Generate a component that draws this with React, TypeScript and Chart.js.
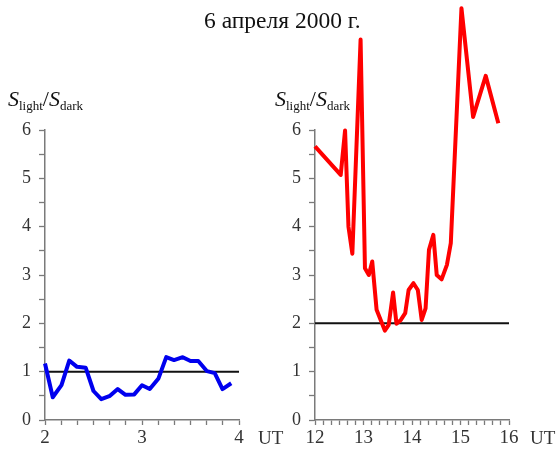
import React, { useEffect, useRef } from 'react';
import { Chart, registerables } from 'chart.js';

Chart.register(...registerables);

// ---- data ----
const title = '6 апреля 2000 г.';
const xUnit = 'UT';

const leftTimes = [2.0, 2.08, 2.17, 2.25, 2.33, 2.42, 2.5, 2.58, 2.67, 2.75, 2.83, 2.92, 3.0, 3.08, 3.17, 3.25, 3.33, 3.42, 3.5, 3.58, 3.67, 3.75, 3.83, 3.92];
const leftRatio = [1.17, 0.47, 0.72, 1.23, 1.1, 1.08, 0.6, 0.43, 0.5, 0.64, 0.52, 0.53, 0.72, 0.64, 0.86, 1.3, 1.24, 1.3, 1.22, 1.22, 1.01, 0.97, 0.64, 0.76];
const leftLevel = 1;
const leftRange = [2, 4];

const rightTimes = [12.0, 12.53, 12.62, 12.69, 12.77, 12.94, 13.03, 13.11, 13.18, 13.27, 13.44, 13.52, 13.61, 13.68, 13.77, 13.86, 13.93, 14.03, 14.12, 14.2, 14.28, 14.35, 14.44, 14.51, 14.61, 14.72, 14.8, 15.02, 15.26, 15.52, 15.78];
const rightRatio = [5.66, 5.07, 5.99, 4.0, 3.44, 7.87, 3.14, 3.0, 3.28, 2.28, 1.85, 1.97, 2.64, 1.99, 2.07, 2.21, 2.69, 2.83, 2.69, 2.07, 2.31, 3.52, 3.83, 3.0, 2.91, 3.21, 3.66, 8.52, 6.27, 7.12, 6.14];
const rightLevel = 2;
const rightRange = [12, 16];

const yRange = [0, 6];
const yTickValues = [0, 0.5, 1, 1.5, 2, 2.5, 3, 3.5, 4, 4.5, 5, 5.5, 6];
const minorPerHour = 6;

const FONT = '"Liberation Serif", "Times New Roman", serif';
const AXIS = '#7a7a7a';
const LABEL = '#333333';

function hourTicks(min: number, max: number): number[] {
  const out: number[] = [];
  for (let i = 0; i <= (max - min) * minorPerHour; i++) out.push(min + i / minorPerHour);
  return out;
}

const isInt = (v: number) => Math.abs(v - Math.round(v)) < 1e-6;

function makeConfig(times: number[], ratios: number[], color: string, level: number, range: number[], yWidth: number, padRight: number): any {
  const xTicks = hourTicks(range[0], range[1]);
  return {
    type: 'line',
    data: {
      datasets: [
        {
          data: times.map((t, i) => ({ x: t, y: ratios[i] })),
          borderColor: color,
          borderWidth: 4,
          pointRadius: 0,
          tension: 0,
          clip: false,
          borderJoinStyle: 'round',
        },
        {
          data: [{ x: range[0], y: level }, { x: range[1], y: level }],
          borderColor: '#111111',
          borderWidth: 2,
          pointRadius: 0,
        },
      ],
    },
    options: {
      animation: false,
      responsive: false,
      layout: { padding: { left: 0, right: padRight, top: 130, bottom: 0 } },
      plugins: { legend: { display: false }, tooltip: { enabled: false } },
      scales: {
        x: {
          type: 'linear',
          min: range[0],
          max: range[1],
          afterBuildTicks: (s: any) => { s.ticks = xTicks.map((v) => ({ value: v })); },
          afterFit: (s: any) => { s.height = 37; },
          ticks: {
            autoSkip: false,
            maxRotation: 0,
            callback: (v: number) => (isInt(v) ? String(Math.round(v)) : ''),
            font: { family: FONT, size: 19 },
            color: LABEL,
            padding: 2,
          },
          grid: { drawOnChartArea: false, tickLength: 5, tickColor: AXIS, tickWidth: 1.3 },
          border: { color: AXIS, width: 1.5 },
        },
        y: {
          type: 'linear',
          min: yRange[0],
          max: yRange[1],
          afterBuildTicks: (s: any) => { s.ticks = yTickValues.map((v) => ({ value: v })); },
          afterFit: (s: any) => { s.width = yWidth; },
          ticks: {
            autoSkip: false,
            callback: (v: number) => (isInt(v) ? String(Math.round(v)) : ''),
            font: { family: FONT, size: 18 },
            color: LABEL,
            padding: 8,
          },
          grid: { drawOnChartArea: false, tickLength: 6, tickColor: AXIS, tickWidth: 1.3 },
          border: { color: AXIS, width: 1.5 },
        },
      },
    },
  };
}

function Panel(props: { left: number; config: any }) {
  const ref = useRef<HTMLCanvasElement>(null);
  useEffect(() => {
    const chart = new Chart(ref.current as HTMLCanvasElement, props.config);
    return () => chart.destroy();
  }, []);
  return (
    <canvas
      ref={ref}
      width={278}
      height={457}
      style={{ position: 'absolute', left: props.left, top: 0, width: 278, height: 457 }}
    />
  );
}

function YLabel(props: { left: number; top: number }) {
  const sub: React.CSSProperties = { fontStyle: 'normal', fontSize: 13, position: 'relative', top: 4 };
  return (
    <div style={{ position: 'absolute', left: props.left, top: props.top, font: `italic 22px ${FONT}`, lineHeight: '22px', whiteSpace: 'nowrap', color: '#111' }}>
      S<span style={sub}>light</span><span style={{ fontStyle: 'normal' }}>/</span>S<span style={sub}>dark</span>
    </div>
  );
}

export default function App() {
  const leftCfg = makeConfig(leftTimes, leftRatio, '#0000ee', leftLevel, leftRange, 45, 39);
  const rightCfg = makeConfig(rightTimes, rightRatio, '#ff0000', rightLevel, rightRange, 37, 47);
  const unitStyle: React.CSSProperties = { position: 'absolute', top: 428, font: `19px ${FONT}`, lineHeight: '19px', color: LABEL, whiteSpace: 'nowrap' };
  return (
    <div style={{ position: 'absolute', left: 0, top: 0, width: 556, height: 457, background: '#fff', overflow: 'hidden' }}>
      <Panel left={0} config={leftCfg} />
      <Panel left={278} config={rightCfg} />
      <div style={{ position: 'absolute', left: 204, top: 9, font: `23.5px ${FONT}`, lineHeight: '23px', whiteSpace: 'nowrap', color: '#111' }}>{title}</div>
      <YLabel left={8} top={88} />
      <YLabel left={275} top={88} />
      <div style={{ ...unitStyle, left: 258 }}>{xUnit}</div>
      <div style={{ ...unitStyle, left: 530 }}>{xUnit}</div>
    </div>
  );
}
